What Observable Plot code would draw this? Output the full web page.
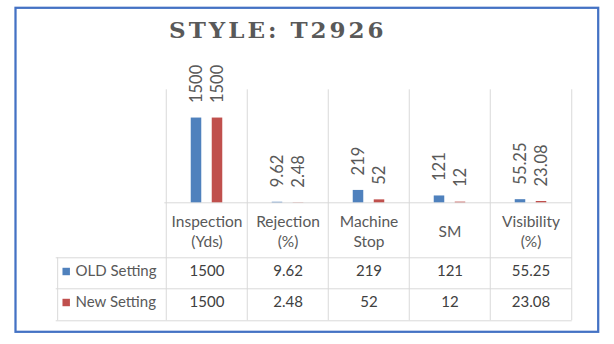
<!DOCTYPE html>
<html><head><meta charset="utf-8">
<script src="https://cdn.jsdelivr.net/npm/d3@7"></script>
<script src="https://cdn.jsdelivr.net/npm/@observablehq/plot@0.6"></script>
<style>body{margin:0;background:#fff}</style>
</head><body><div id="chart"></div>
<script>
const title = "STYLE: T2926";
const categories = ["Inspection\n(Yds)", "Rejection\n(%)", "Machine\nStop", "SM", "Visibility\n(%)"];
const seriesNames = ["OLD Setting", "New Setting"];
const oldValues = [1500, 9.62, 219, 121, 55.25];
const newValues = [1500, 2.48, 52, 12, 23.08];
const colors = ["#4F81BD", "#C0504D"];

const W = 614, H = 344;
const mL = 164.3, mR = 42.3, mT = 89.3, mB = 141.7;
const bw = (W - mL - mR) / categories.length;
const barW = 11;
const inset = (bw - barW) / 2;
const grey = "#595959", lineC = "#D9D9D9";

const rows = categories.map((c, i) => ({category: c, v0: oldValues[i], v1: newValues[i]}));
const series = seriesNames.map((name, k) => ({name, key: "v" + k, color: colors[k], dx: k === 0 ? -10.5 : 10.5, rowDy: k === 0 ? 68.7 : 99.7}));

const marks = [
  // border
  Plot.frame({stroke: "#4472C4", strokeWidth: 2.25, insetLeft: -149.3, insetTop: -82, insetRight: -26, insetBottom: -129}),
  // title
  Plot.text([title], {frameAnchor: "top-left", text: d => d, dx: 113, dy: -58.8, textAnchor: "middle", lineAnchor: "middle",
    fontFamily: "DejaVu Serif", fontWeight: "bold", fontSize: 23, fill: grey}),
  // vertical grid / table column lines
  Plot.ruleX(categories, {x: d => d, dx: -bw / 2, insetBottom: -118, stroke: lineC, strokeOpacity: 1}),
  Plot.ruleX([categories[categories.length - 1]], {x: d => d, dx: bw / 2, insetBottom: -118, stroke: lineC, strokeOpacity: 1}),
  Plot.ruleX([categories[0]], {x: d => d, dx: -bw / 2 - 108.6, insetTop: 168, insetBottom: -118, stroke: lineC, strokeOpacity: 1}),
  // horizontal table lines
  Plot.ruleY([0], {stroke: lineC, strokeOpacity: 1}),
  Plot.ruleY([0], {dy: 55, insetLeft: -108.6, stroke: lineC, strokeOpacity: 1}),
  Plot.ruleY([0], {dy: 86, insetLeft: -108.6, stroke: lineC, strokeOpacity: 1}),
  Plot.ruleY([0], {dy: 118, insetLeft: -108.6, stroke: lineC, strokeOpacity: 1}),
  // header row
  Plot.text(rows, {x: "category", text: "category", frameAnchor: "bottom", dy: 27.7, lineAnchor: "middle", lineHeight: 1.29,
    fontFamily: "Lato", fontSize: 15.5, fill: grey})
];

for (const s of series) {
  marks.push(
    Plot.barY(rows, {x: "category", y: s.key, fill: s.color, insetLeft: inset, insetRight: inset, dx: s.dx}),
    Plot.text(rows, {x: "category", y: s.key, text: d => String(d[s.key]), rotate: -90, textAnchor: "start", lineAnchor: "middle",
      dx: s.dx, dy: -15, fontFamily: "Lato", fontSize: 16.5, fill: grey}),
    Plot.text(rows, {x: "category", text: d => String(d[s.key]), frameAnchor: "bottom", dy: s.rowDy, lineAnchor: "middle",
      fontFamily: "Lato", fontSize: 15, fill: "#404040"}),
    Plot.dot([s.name], {frameAnchor: "bottom-left", dx: -98.6, dy: s.rowDy, symbol: "square", r: 4.2, fill: s.color, stroke: "none"}),
    Plot.text([s.name], {frameAnchor: "bottom-left", text: d => d, textAnchor: "start", lineAnchor: "middle", dx: -89.3, dy: s.rowDy,
      fontFamily: "Lato", fontSize: 15, fill: grey})
  );
}

const chart = Plot.plot({
  width: W, height: H,
  marginLeft: mL, marginRight: mR, marginTop: mT, marginBottom: mB,
  x: {domain: categories, padding: 0, axis: null},
  y: {domain: [0, 2000], axis: null},
  style: {fontFamily: "Lato", background: "#fff"},
  marks
});
d3.select(chart).selectAll("text").filter(function() { return this.textContent === title; })
  .style("letter-spacing", "3px");
document.getElementById("chart").append(chart);
</script>
</body></html>
